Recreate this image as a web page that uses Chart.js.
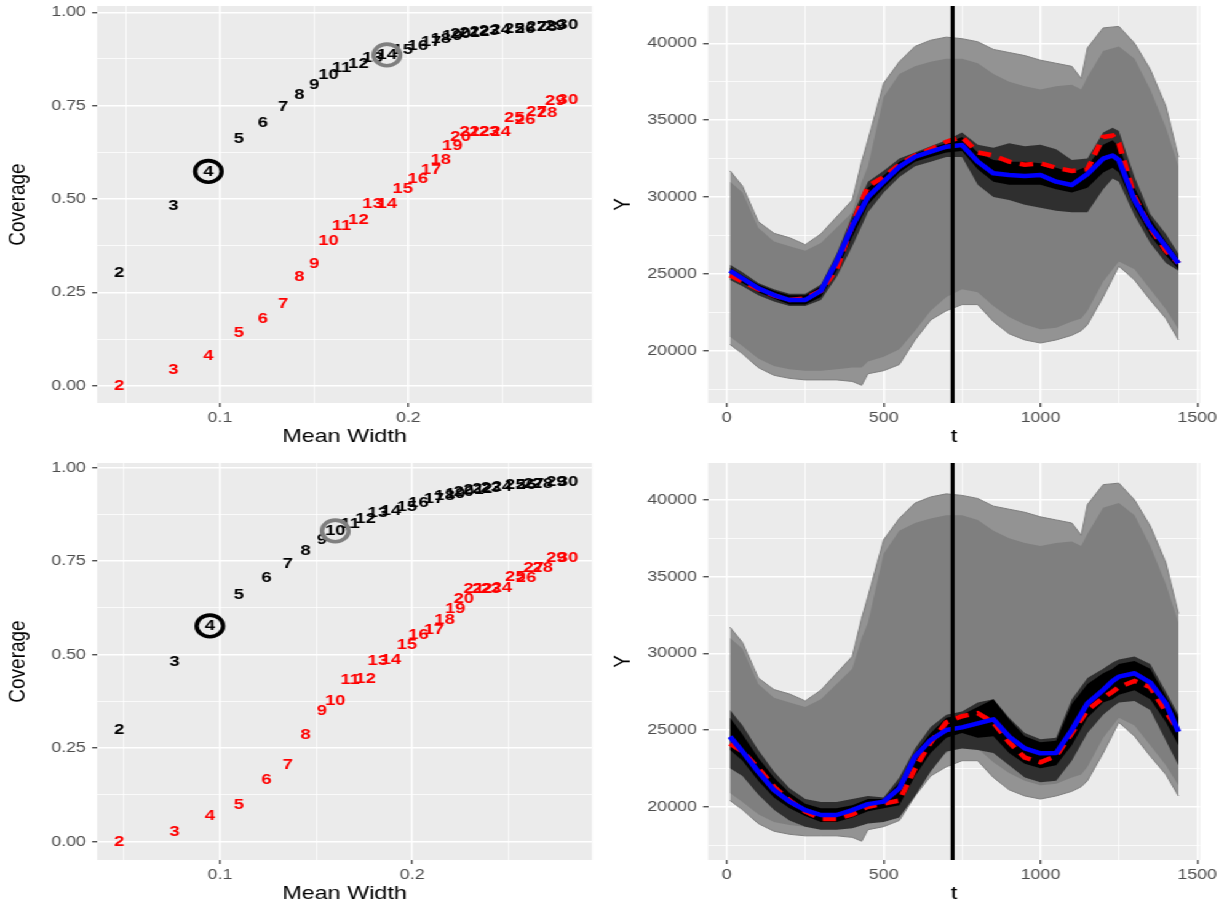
<!DOCTYPE html>
<html>
<head>
<meta charset="utf-8">
<script src="https://cdn.jsdelivr.net/npm/chart.js@4.4.1/dist/chart.umd.min.js"></script>
<style>
html,body{margin:0;padding:0;background:#ffffff;}
#stage{position:absolute;left:0;top:0;width:991px;height:905px;transform:scaleX(1.2301);transform-origin:0 0;}
canvas{position:absolute;}
</style>
</head>
<body>
<div id="stage">
<canvas id="tl" width="495" height="448" style="left:0px;top:0px"></canvas>
<canvas id="tr" width="496" height="448" style="left:495px;top:0px"></canvas>
<canvas id="bl" width="495" height="448" style="left:0px;top:457px"></canvas>
<canvas id="br" width="496" height="448" style="left:495px;top:457px"></canvas>
</div>
<script>
// ---------------- data: left panels (coverage vs mean width) ----------------
const kLabels = ['2','3','4','5','6','7','8','9','10','11','12','13','14','15','16','17','18','19','20','21','22','23','24','25','26','27','28','29','30'];

const topWidth = [0.0465,0.0752,0.0938,0.1099,0.1227,0.1335,0.1421,0.1500,0.1576,0.1645,0.1735,0.1810,0.1886,0.1970,0.2050,0.2120,0.2172,0.2233,0.2277,0.2325,0.2377,0.2428,0.2490,0.2563,0.2620,0.2680,0.2736,0.2780,0.2847];
const topCovBlack = [0.301,0.481,0.574,0.661,0.705,0.7455,0.779,0.805,0.832,0.850,0.863,0.879,0.886,0.899,0.910,0.921,0.928,0.937,0.942,0.9455,0.948,0.951,0.954,0.956,0.957,0.960,0.9616,0.9634,0.9652];
const topCovRed = [0.000,0.042,0.081,0.141,0.180,0.219,0.292,0.325,0.388,0.428,0.444,0.487,0.487,0.527,0.555,0.579,0.604,0.643,0.667,0.679,0.679,0.679,0.679,0.716,0.712,0.734,0.732,0.7625,0.765];
const topRingK = [4, 14];

const botWidth = [0.0476,0.0763,0.0947,0.1097,0.1241,0.1352,0.1445,0.1530,0.1599,0.1676,0.1757,0.1821,0.1889,0.1972,0.2032,0.2113,0.2168,0.2223,0.2268,0.2320,0.2364,0.2409,0.2466,0.2536,0.2592,0.2632,0.2678,0.2749,0.2810];
const botCovBlack = [0.300,0.480,0.577,0.659,0.706,0.744,0.777,0.807,0.831,0.851,0.863,0.878,0.884,0.896,0.906,0.918,0.924,0.931,0.936,0.940,0.943,0.947,0.949,0.953,0.955,0.957,0.958,0.961,0.963];
const botCovRed = [0.000,0.027,0.069,0.098,0.165,0.205,0.285,0.349,0.377,0.432,0.435,0.484,0.486,0.526,0.553,0.566,0.593,0.622,0.649,0.677,0.677,0.677,0.679,0.707,0.706,0.731,0.731,0.760,0.760];
const botRingK = [4, 10];

const ringColors = ['#000000', '#7F7F7F'];

// tick positions (major + minor)
const covTicks = [0, 0.125, 0.25, 0.375, 0.5, 0.625, 0.75, 0.875, 1];
const widthTicks = [0.05, 0.1, 0.15, 0.2, 0.25];
const tTicks = [0, 250, 500, 750, 1000, 1250, 1500];
const yTicks = [17500, 20000, 22500, 25000, 27500, 30000, 32500, 35000, 37500, 40000];

// ---------------- data: right panels (functional data) ----------------
// envelope of the grey curves (same set of curves in both panels)
const envT     = [10,50,100,150,200,250,300,350,400,430,450,500,550,600,650,700,750,800,850,900,950,1000,1050,1100,1130,1150,1200,1250,1300,1350,1400,1440];
const envHi    = [31700,30700,28400,27640,27350,26900,27600,28700,29800,32300,33700,37400,38800,39800,40200,40400,40300,40100,39600,39400,39200,38900,38700,38500,37700,39700,41000,41100,40000,38300,35900,32600];
const envLo    = [20400,19800,18900,18400,18200,18100,18100,18100,18000,17750,18500,18700,19100,20700,22000,22600,23000,23000,21900,21100,20700,20500,20700,21000,21300,21700,23500,25500,24600,23300,22100,20700];
const denseHi  = [31000,30300,28000,27100,26800,26500,27000,28000,29000,31000,32000,36500,38000,38500,38800,39000,39000,38700,38000,37500,37200,37000,37200,37300,37000,37800,39500,39800,39000,37000,34500,32000];
const denseLo  = [20900,20300,19500,19000,18800,18700,18700,18800,18900,18900,19300,19600,20100,21300,22600,23500,24000,23800,22900,22200,21700,21400,21500,21900,22100,22600,24500,25800,25300,24000,22700,21400];

const bandT = [10,50,100,150,200,250,300,350,400,450,500,550,600,650,700,750,800,850,900,950,1000,1050,1100,1150,1200,1230,1250,1300,1350,1400,1440];

const topBlue    = [25200,24700,24060,23620,23300,23300,23900,25800,28100,30000,31000,31970,32620,32950,33270,33380,32300,31540,31430,31370,31430,31000,30780,31500,32500,32700,32410,29800,28070,26770,25680];
const topRed     = [24900,24500,24000,23600,23300,23400,23900,25300,28200,30700,31300,32100,32700,33100,33600,33900,32900,32700,32300,32100,32200,31900,31700,31800,33900,34000,33500,30000,28000,26500,25700];
const topDarkHi  = [25600,25100,24400,24000,23700,23700,24300,26300,28800,31000,31700,32500,32900,33300,33700,34200,33400,33200,33500,33300,33400,33100,32400,32500,34200,34500,34300,31300,28900,27600,26300];
const topDarkLo  = [24600,24200,23600,23200,22900,22900,23300,24800,26800,29000,30300,31300,32000,32300,32600,32600,30800,30000,29800,29500,29300,29100,29000,29000,30500,31200,31000,28800,27000,25700,25200];
const topBlackHi = [25400,24900,24300,23900,23600,23600,24200,26000,28500,30600,31400,32300,32800,33200,33500,33900,32900,32400,32300,32300,32200,31900,31600,32000,33400,33700,33300,30600,28600,27100,26000];
const topBlackLo = [24800,24400,23800,23400,23000,23000,23500,25200,27400,29500,30600,31600,32300,32600,32900,33000,31800,31000,30800,30800,30800,30500,30300,30600,31600,31900,31600,29300,27500,26200,25300];

const botBlue    = [24570,23590,22280,21090,20330,19780,19460,19460,19780,20170,20330,21200,23260,24350,25000,25170,25430,25700,24570,23800,23480,23500,25000,26740,27610,28200,28480,28700,28100,26740,24890];
const botRed     = [24100,23600,22500,21300,20400,19700,19200,19200,19500,20000,20200,20400,22500,24200,25500,25900,26100,25500,24200,23200,22900,23300,24800,26300,27100,27500,27800,28200,27800,26200,25000];
const botDarkHi  = [26300,25300,23700,22300,21200,20500,20300,20300,20500,20700,20600,21900,23800,25200,26000,26200,26800,27000,25800,24800,24400,24500,27000,28400,29000,29400,29600,29800,29300,27500,26000];
const botDarkLo  = [22500,22000,20800,19800,19100,18700,18500,18500,18600,18900,19000,19300,20700,22300,23600,23800,23700,23500,22700,21900,21600,21700,23000,24800,26000,26500,26800,26900,26300,24300,22700];
const botBlackHi = [25800,24700,23200,21900,20900,20200,19900,19900,20100,20500,20500,21600,23500,24800,25800,26000,26500,27000,25700,24600,24200,24300,26700,28000,28700,29000,29300,29500,29000,27200,25800];
const botBlackLo = [23700,23000,21700,20600,19900,19400,19000,19000,19300,19700,19900,20100,22000,23500,24500,24800,24500,24600,23500,22800,22500,22700,24000,25800,26800,27000,27300,27600,27000,25500,24000];

const vlineT = 720;

// ---------------- helpers ----------------
const FONT = '"Liberation Sans", Arial, Helvetica, sans-serif';
function pts(xs, ys){ return xs.map((x, i) => ({x: x, y: ys[i]})); }
const isCovMajor = v => Math.abs(v * 4 - Math.round(v * 4)) < 1e-6;
const isWMajor = v => Math.abs(v * 10 - Math.round(v * 10)) < 1e-6;
const isTMajor = v => Math.abs(v % 500) < 1e-6;
const isYMajor = v => Math.abs(v % 5000) < 1e-6;

const bgPlugin = {
  id: 'panelBg',
  beforeDraw(chart){
    const a = chart.chartArea, ctx = chart.ctx;
    ctx.save();
    ctx.fillStyle = '#EBEBEB';
    ctx.fillRect(a.left, a.top, a.right - a.left, a.bottom - a.top);
    ctx.restore();
  }
};
const textPlugin = {
  id: 'numText',
  afterDatasetDraw(chart, args){
    const ds = chart.data.datasets[args.index];
    if (!ds.txt) return;
    const ctx = chart.ctx;
    ctx.save();
    ctx.font = 'bold 15px ' + FONT;
    ctx.fillStyle = ds.txtColor;
    ctx.textAlign = 'center';
    ctx.textBaseline = 'middle';
    args.meta.data.forEach((el, i) => { ctx.fillText(ds.txt[i], el.x, el.y); });
    ctx.restore();
  }
};

function makeAxis(o){
  const horiz = o.pos === 'bottom';
  return {
    type: 'linear', position: o.pos, min: o.min, max: o.max,
    afterBuildTicks: s => { s.ticks = o.ticks.map(v => ({value: v})); },
    afterFit: s => {
      if (horiz) s.height = o.size; else s.width = o.size;
      s.paddingTop = 0; s.paddingBottom = 0; s.paddingLeft = 0; s.paddingRight = 0;
    },
    border: {display: false},
    grid: {
      color: '#FFFFFF',
      lineWidth: c => (c.tick && o.isMajor(c.tick.value)) ? 1.5 : 0.75,
      drawTicks: true, tickLength: 4, tickWidth: 1.2,
      tickColor: c => (c.tick && o.isMajor(c.tick.value)) ? '#333333' : 'rgba(0,0,0,0)'
    },
    ticks: {
      autoSkip: false, maxRotation: 0, minRotation: 0,
      padding: horiz ? 2 : 5, color: '#4D4D4D',
      font: {family: FONT, size: 14.5},
      callback: v => o.isMajor(v) ? o.fmt(v) : ''
    },
    title: {
      display: true, text: o.title, color: '#000000',
      font: {family: FONT, size: 19, lineHeight: 1.2},
      padding: horiz ? {top: 0, bottom: o.titlePad} : {top: o.titlePad, bottom: 0}
    }
  };
}

const baseOpts = {
  responsive: false, animation: false, events: [],
  plugins: {legend: {display: false}, tooltip: {enabled: false}},
  elements: {point: {radius: 0, hoverRadius: 0}, line: {tension: 0}}
};

function leftChart(id, w, blk, red, ringK, xr, yr){
  const ringPts = ringK.map(k => ({x: w[k - 2], y: blk[k - 2]}));
  return new Chart(document.getElementById(id), {
    type: 'scatter',
    data: {datasets: [
      {data: ringPts, pointRadius: 10.8, pointHoverRadius: 10.8, pointBorderWidth: 3.6,
       pointBorderColor: ringColors, pointBackgroundColor: 'rgba(0,0,0,0)', order: 0},
      {data: pts(w, blk), pointRadius: 0, txt: kLabels, txtColor: '#000000', order: 1},
      {data: pts(w, red), pointRadius: 0, txt: kLabels, txtColor: '#FF0000', order: 2}
    ]},
    options: Object.assign({}, baseOpts, {
      layout: {autoPadding: false, padding: {top: 6, right: 13.7, left: 0, bottom: 0}},
      scales: {
        x: makeAxis({pos: 'bottom', min: xr[0], max: xr[1], ticks: widthTicks, isMajor: isWMajor,
                     fmt: v => v.toFixed(1), title: 'Mean Width', size: 45, titlePad: 0}),
        y: makeAxis({pos: 'left', min: yr[0], max: yr[1], ticks: covTicks, isMajor: isCovMajor,
                     fmt: v => v.toFixed(2), title: 'Coverage', size: 78.9, titlePad: 3.2})
      }
    }),
    plugins: [bgPlugin, textPlugin]
  });
}

function rightChart(id, blue, red, darkHi, darkLo, blackHi, blackLo, yr){
  const line = (data, extra) => Object.assign({data: data, borderWidth: 0, pointRadius: 0, fill: false}, extra);
  return new Chart(document.getElementById(id), {
    type: 'line',
    data: {datasets: [
      line([{x: vlineT, y: yr[0]}, {x: vlineT, y: yr[1]}], {borderColor: '#000000', borderWidth: 3.2, order: 0}),
      line(pts(bandT, blue), {borderColor: '#0000FF', borderWidth: 4.5, borderJoinStyle: 'round', order: 1}),
      line(pts(bandT, red), {borderColor: '#FF0000', borderWidth: 4.5, borderDash: [11, 7], order: 2}),
      line(pts(bandT, blackHi), {order: 3}),
      line(pts(bandT, blackLo), {fill: '-1', backgroundColor: '#000000', order: 3}),
      line(pts(bandT, darkHi), {order: 4}),
      line(pts(bandT, darkLo), {fill: '-1', backgroundColor: '#2F2F2F', order: 4}),
      line(pts(envT, denseHi), {order: 5}),
      line(pts(envT, denseLo), {fill: '-1', backgroundColor: '#7F7F7F', order: 5}),
      line(pts(envT, envHi), {borderColor: '#7F7F7F', borderWidth: 1, order: 6}),
      line(pts(envT, envLo), {borderColor: '#7F7F7F', borderWidth: 1, fill: '-1', backgroundColor: '#939393', order: 6})
    ]},
    options: Object.assign({}, baseOpts, {
      layout: {autoPadding: false, padding: {top: 6, right: 15.4, left: 0, bottom: 0}},
      scales: {
        x: makeAxis({pos: 'bottom', min: -60, max: 1509, ticks: tTicks, isMajor: isTMajor,
                     fmt: v => String(v), title: 't', size: 45, titlePad: 0}),
        y: makeAxis({pos: 'left', min: yr[0], max: yr[1], ticks: yTicks, isMajor: isYMajor,
                     fmt: v => String(v), title: 'Y', size: 80.6, titlePad: 0})
      }
    }),
    plugins: [bgPlugin]
  });
}

leftChart('tl', topWidth, topCovBlack, topCovRed, topRingK, [0.0347, 0.2975], [-0.0463, 1.0169]);
leftChart('bl', botWidth, botCovBlack, botCovRed, botRingK, [0.036, 0.2935], [-0.049, 1.0126]);
rightChart('tr', topBlue, topRed, topDarkHi, topDarkLo, topBlackHi, topBlackLo, [16597, 42427]);
rightChart('br', botBlue, botRed, botDarkHi, botDarkLo, botBlackHi, botBlackLo, [16524, 42413]);
</script>
</body>
</html>
